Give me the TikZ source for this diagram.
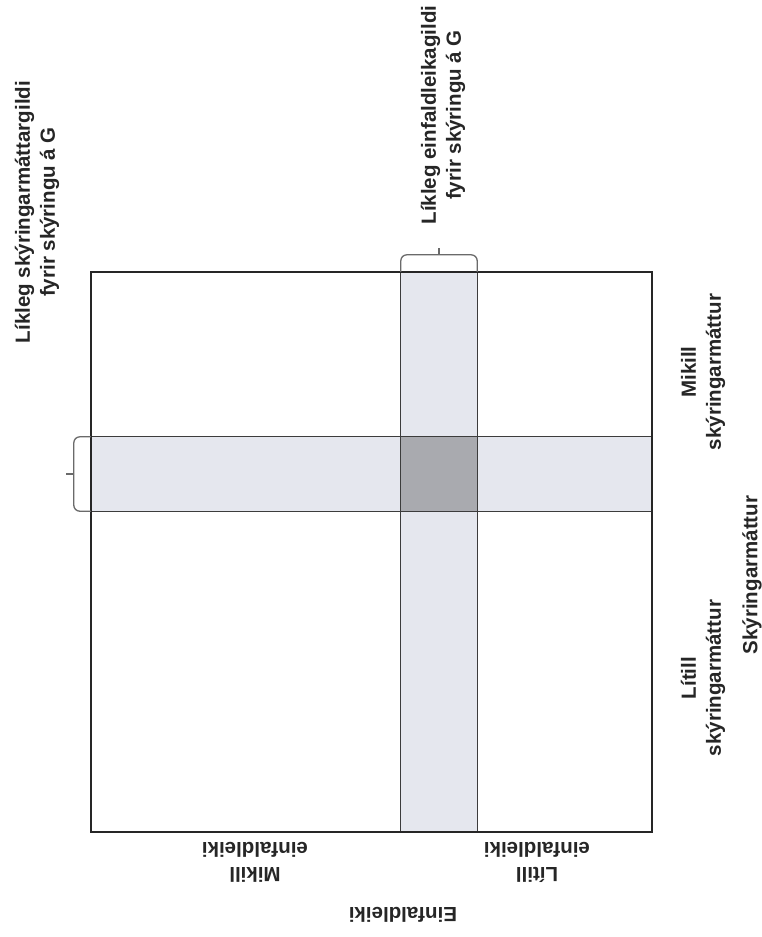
\documentclass[tikz,border=0pt]{standalone}
\usepackage{fontspec}
\setmainfont{Liberation Sans}
\usetikzlibrary{calc}
\definecolor{bandfill}{HTML}{E5E7EE}
\definecolor{crossfill}{HTML}{A9AAAF}
\definecolor{inkc}{HTML}{262626}
\definecolor{bracec}{HTML}{6A6A6A}
\begin{document}
\begin{tikzpicture}[x=1pt,y=-1pt,
  boxstyle/.style={draw=inkc, line width=1.8pt, minimum width=561pt, minimum height=560pt, inner sep=0pt},
  bandstyle/.style={fill=bandfill, inner sep=0pt},
  bandline/.style={draw=inkc!90, line width=1.2pt},
  bracestyle/.style={draw=bracec, line width=1.3pt, rounded corners=6pt},
  lbl/.style={font=\bfseries\fontsize{20.5}{25}\selectfont, text=inkc, align=center, inner sep=0pt}
]
\useasboundingbox (0,0) rectangle (762,937);
\fill[white] (0,0) rectangle (762,937);

% bands
\node[bandstyle, minimum width=76pt, minimum height=560pt] (vband) at (439,552) {};
\node[bandstyle, minimum width=561pt, minimum height=74pt] (hband) at (371.5,474) {};
\fill[crossfill] (vband.west |- hband.north) rectangle (vband.east |- hband.south);
\draw[bandline] (vband.north west) -- (vband.south west);
\draw[bandline] (vband.north east) -- (vband.south east);
\draw[bandline] (hband.north west) -- (hband.north east);
\draw[bandline] (hband.south west) -- (hband.south east);

% main box
\node[boxstyle] (box) at (371.5,552) {};

% top brace
\coordinate (tb1) at ($(vband.north west)+(0,-17)$);
\coordinate (tb2) at ($(vband.north east)+(0,-17)$);
\coordinate (ttip) at ($(vband.north)+(0,-24)$);
\draw[bracestyle] (vband.north west) -- (tb1) -- (tb2) -- (vband.north east);
\draw[bracec, line width=1.3pt] ($(vband.north)+(0,-17)$) -- (ttip);

% left brace
\coordinate (lb1) at ($(hband.north west)+(-17,0)$);
\coordinate (lb2) at ($(hband.south west)+(-17,0)$);
\coordinate (ltip) at ($(hband.west)+(-25,0)$);
\draw[bracestyle] (hband.north west) -- (lb1) -- (lb2) -- (hband.south west);
\draw[bracec, line width=1.3pt] ($(hband.west)+(-17,0)$) -- (ltip);

% labels
\node[lbl, rotate=90] (toplab) at (443,115) {Líkleg einfaldleikagildi\\fyrir skýringu á G};
\node[lbl, rotate=90] (leftlab) at (37,212) {Líkleg skýringarmáttargildi\\fyrir skýringu á G};
\node[lbl, rotate=90] (mikillS) at (703,372) {Mikill\\skýringarmáttur};
\node[lbl, rotate=90] (litillS) at (703,678) {Lítill\\skýringarmáttur};
\node[lbl, rotate=90] (skyr) at (752,575) {Skýringarmáttur};
\node[lbl, rotate=180] (mikillE) at (255,862) {Mikill\\einfaldleiki};
\node[lbl, rotate=180] (litillE) at (537,862) {Lítill\\einfaldleiki};
\node[lbl, rotate=180] (einf) at (403,915) {Einfaldleiki};
\end{tikzpicture}
\end{document}
